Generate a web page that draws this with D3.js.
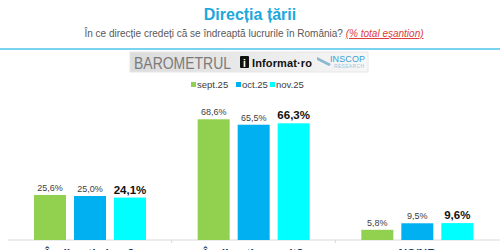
<!DOCTYPE html>
<html>
<head>
<meta charset="utf-8">
<script src="https://cdn.jsdelivr.net/npm/d3@7"></script>
<style>
  body { margin: 0; background: #fff; }
  svg { display: block; font-family: "Liberation Sans", Arial, sans-serif; }
</style>
</head>
<body>
<div id="chart"></div>
<script>
var width = 500;
var height = 250;

var categories = ["În direcția bună", "În direcția greșită", "NS/NR"];
var seriesNames = ["sept.25", "oct.25", "nov.25"];
var sept25 = [25.6, 68.6, 5.8];
var oct25 = [25.0, 65.5, 9.5];
var nov25 = [24.1, 66.3, 9.6];
var colors = ["#92d050", "#00b0f0", "#00ffff"];

var seriesValues = [sept25, oct25, nov25];

var svg = d3.select("#chart").append("svg")
  .attr("width", width)
  .attr("height", height);

// title + subtitle
svg.append("text")
  .attr("x", 250).attr("y", 20)
  .attr("text-anchor", "middle")
  .attr("font-size", 16).attr("font-weight", "bold")
  .attr("fill", "#1ba8dc")
  .text("Direcția țării");

var sub = svg.append("text")
  .attr("x", 254).attr("y", 37)
  .attr("text-anchor", "middle")
  .attr("font-size", 10)
  .attr("fill", "#595959");
sub.append("tspan").text("În ce direcție credeți că se îndreaptă lucrurile în România? ");
sub.append("tspan")
  .attr("fill", "#e03a3a")
  .attr("font-style", "italic")
  .attr("text-decoration", "underline")
  .text("(% total eșantion)");

svg.append("line")
  .attr("x1", 0).attr("x2", width)
  .attr("y1", 49).attr("y2", 49)
  .attr("stroke", "#4cc4ea")
  .attr("stroke-width", 1.5);

// logo banner
var grad = svg.append("defs").append("linearGradient")
  .attr("id", "bannerGrad").attr("x1", 0).attr("x2", 1).attr("y1", 0).attr("y2", 0);
grad.append("stop").attr("offset", "0%").attr("stop-color", "#dcdcdc");
grad.append("stop").attr("offset", "100%").attr("stop-color", "#f7f7f7");

svg.append("rect")
  .attr("x", 130).attr("y", 52)
  .attr("width", 238).attr("height", 20)
  .attr("fill", "url(#bannerGrad)")
  .attr("stroke", "#e6e6e6");

svg.append("text")
  .attr("x", 134).attr("y", 68.5)
  .attr("font-size", 17)
  .attr("fill", "#7a7a7a")
  .attr("textLength", 97)
  .attr("lengthAdjust", "spacingAndGlyphs")
  .text("BAROMETRUL");

svg.append("rect")
  .attr("x", 240).attr("y", 56)
  .attr("width", 9).attr("height", 12)
  .attr("rx", 1)
  .attr("fill", "#111");
svg.append("text")
  .attr("x", 244.5).attr("y", 66.5)
  .attr("text-anchor", "middle")
  .attr("font-size", 10).attr("font-weight", "bold")
  .attr("fill", "#fff")
  .text("i");

svg.append("text")
  .attr("x", 252).attr("y", 67)
  .attr("font-size", 11).attr("font-weight", "bold")
  .attr("fill", "#111")
  .attr("textLength", 60)
  .text("Informat·ro");

svg.append("path")
  .attr("d", "M317,57 L331,64 L329,66 L317,60 Z")
  .attr("fill", "#8ab8d0");

svg.append("text")
  .attr("x", 330).attr("y", 62)
  .attr("font-size", 9)
  .attr("fill", "#3a9fd6")
  .attr("textLength", 35)
  .text("INSCOP");
svg.append("text")
  .attr("x", 334).attr("y", 68)
  .attr("font-size", 5)
  .attr("fill", "#9cc8e0")
  .attr("textLength", 30)
  .text("RESEARCH");

// legend
var legendX = [191, 236, 270];
var legend = svg.selectAll(".legend")
  .data(seriesNames)
  .enter().append("g")
  .attr("class", "legend")
  .attr("transform", function(d, i) { return "translate(" + legendX[i] + ",85)"; });
legend.append("rect")
  .attr("x", 0).attr("y", -3)
  .attr("width", 5).attr("height", 5)
  .attr("fill", function(d, i) { return colors[i]; });
legend.append("text")
  .attr("x", 6).attr("y", 3)
  .attr("font-size", 9.5)
  .attr("fill", "#404040")
  .text(function(d) { return d; });

// scales
var baseY = 240;
var x0 = d3.scaleBand()
  .domain(categories)
  .range([8, 499]);

var x1 = d3.scaleBand()
  .domain(seriesNames)
  .range([26, 138])
  .paddingInner(0.2);

var y = d3.scaleLinear()
  .domain([0, 100])
  .range([baseY, baseY - 176]);

// axis baseline
svg.append("line")
  .attr("x1", 8).attr("x2", 500)
  .attr("y1", baseY).attr("y2", baseY)
  .attr("stroke", "#d9d9d9");

svg.selectAll(".tick-sep")
  .data(categories.slice(1))
  .enter().append("line")
  .attr("x1", function(d) { return x0(d); })
  .attr("x2", function(d) { return x0(d); })
  .attr("y1", baseY).attr("y2", baseY + 3)
  .attr("stroke", "#d9d9d9");

var groups = svg.selectAll(".group")
  .data(categories)
  .enter().append("g")
  .attr("class", "group")
  .attr("transform", function(d) { return "translate(" + x0(d) + ",0)"; });

groups.selectAll("rect")
  .data(function(d, ci) {
    return seriesNames.map(function(s, si) {
      return { series: s, si: si, value: seriesValues[si][ci] };
    });
  })
  .enter().append("rect")
  .attr("x", function(d) { return x1(d.series); })
  .attr("y", function(d) { return y(d.value); })
  .attr("width", x1.bandwidth())
  .attr("height", function(d) { return baseY - y(d.value); })
  .attr("fill", function(d) { return colors[d.si]; });

groups.selectAll(".val")
  .data(function(d, ci) {
    return seriesNames.map(function(s, si) {
      return { series: s, si: si, value: seriesValues[si][ci] };
    });
  })
  .enter().append("text")
  .attr("class", "val")
  .attr("x", function(d) { return x1(d.series) + x1.bandwidth() / 2; })
  .attr("y", function(d) { return y(d.value) - 4; })
  .attr("text-anchor", "middle")
  .attr("font-size", function(d) { return d.si == 2 ? 11.5 : 9; })
  .attr("font-weight", function(d) { return d.si == 2 ? "bold" : "normal"; })
  .attr("fill", function(d) { return d.si == 2 ? "#111" : "#404040"; })
  .text(function(d) { return d3.format(".1f")(d.value).replace(".", ",") + "%"; });

// category labels (cut off at the bottom, as in the source picture)
svg.selectAll(".cat")
  .data(categories)
  .enter().append("text")
  .attr("class", "cat")
  .attr("x", function(d) { return x0(d) + x0.bandwidth() / 2; })
  .attr("y", 258)
  .attr("text-anchor", "middle")
  .attr("font-size", 12).attr("font-weight", "bold")
  .attr("fill", "#1f3a68")
  .text(function(d) { return d; });
</script>
</body>
</html>
